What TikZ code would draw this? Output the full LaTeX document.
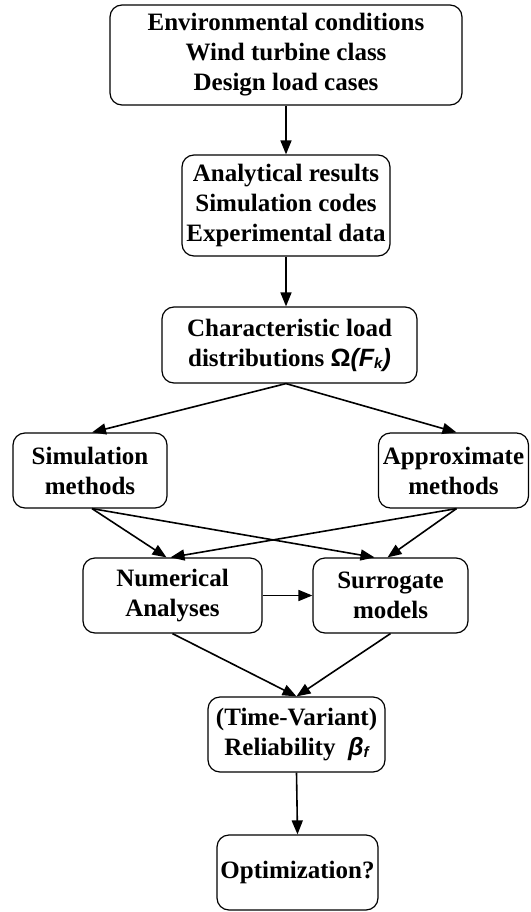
\documentclass[tikz,border=0pt]{standalone}
\usepackage{fontspec}
\setmainfont{Liberation Serif}
\newfontfamily\symfont{Liberation Sans}
\usetikzlibrary{arrows.meta}
\tikzset{
  box/.style={draw, rounded corners=12pt, line width=1.2pt, align=center, inner sep=2pt,
    font=\fontsize{25}{30}\selectfont\bfseries},
  arr/.style={-{Triangle[length=14pt,width=11pt]}, line width=1.6pt}
}
\begin{document}
\begin{tikzpicture}[x=1pt, y=-1pt]
            \useasboundingbox (0,0) rectangle (530,912);
            \node[box, minimum width=352pt, minimum height=100pt] (env) at (286,55) {Environmental conditions\\Wind turbine class\\Design load cases};
            \node[box, minimum width=208pt, minimum height=101pt] (data) at (286,205.5) {Analytical results\\Simulation codes\\Experimental data};
            \node[box, minimum width=255pt, minimum height=76pt] (char) at (289.5,345) {Characteristic load\\distributions {\symfont\bfseries Ω\itshape(F\raisebox{-2pt}{\fontsize{15}{15}\selectfont k})}};
            \node[box, minimum width=154pt, minimum height=75pt] (sim) at (90,470.5) {Simulation\\methods};
            \node[box, minimum width=150pt, minimum height=75pt] (approx) at (453.5,470.5) {Approximate\\methods};
            \node[box, minimum width=179pt, minimum height=75pt] (num) at (172.5,595.5) {Numerical\\Analyses};
            \node[box, minimum width=155pt, minimum height=75pt] (sur) at (390.5,595.5) {Surrogate\\models};
            \node[box, minimum width=177pt, minimum height=75pt] (rel) at (296.5,734.5) {(Time-Variant)\\Reliability~~{\symfont\bfseries\itshape β\raisebox{-2pt}{\fontsize{15}{15}\selectfont f}}};
            \node[box, minimum width=161pt, minimum height=75pt] (opt) at (297.5,872.5) {Optimization?};
            \draw[arr] (env.south) -- (data.north);
            \draw[arr] (data.south) -- (data.south |- char.north);
            \draw[arr] ([xshift=-3.5pt]char.south) -- ([xshift=2pt]sim.north);
            \draw[arr] ([xshift=-3.5pt]char.south) -- ([xshift=3pt]approx.north);
            \draw[arr] ([xshift=2pt]sim.south) -- ([xshift=-6pt]num.north);
            \draw[arr] ([xshift=2pt]sim.south) -- ([xshift=-16pt]sur.north);
            \draw[arr] ([xshift=3pt]approx.south) -- ([xshift=-2pt]num.north);
            \draw[arr] ([xshift=3pt]approx.south) -- ([xshift=-3pt]sur.north);
            \draw[arr] (num.east) -- (sur.west);
            \draw[arr] (num.south) -- (rel.north);
            \draw[arr] (sur.south) -- (rel.north);
            \draw[arr] (rel.south) -- (opt.north);
\end{tikzpicture}
\end{document}
